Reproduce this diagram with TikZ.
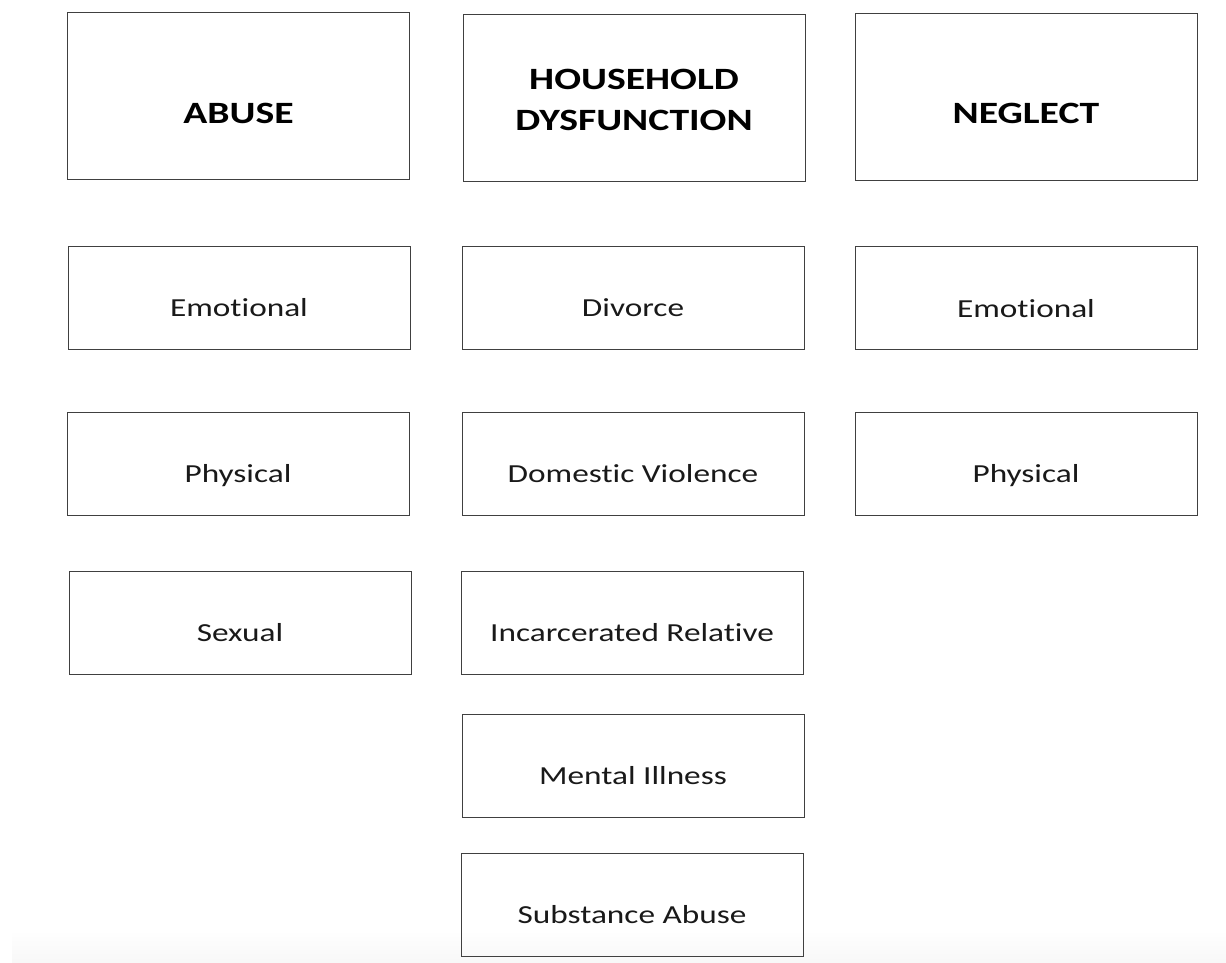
\documentclass[tikz,border=0pt]{standalone}
\usepackage{fontspec}
\setmainfont[FakeStretch=1.28,Ligatures={NoCommon}]{Carlito}
\begin{document}
\begin{tikzpicture}[x=1pt,y=-1pt,
  box/.style={draw=black!75, line width=1pt, rectangle, inner sep=0pt, minimum width=342pt, minimum height=103pt},
  hbox/.style={box, minimum height=166pt},
  lbl/.style={anchor=base, inner sep=0pt, font=\fontsize{26}{31}\selectfont, text=black!90},
  hlbl/.style={anchor=base, inner sep=0pt, font=\fontsize{31}{41}\selectfont\bfseries, align=center, text=black}]
\useasboundingbox (0,0) rectangle (1226,963);
\shade[top color=white, bottom color=black!3] (12,930) rectangle (1226,963);
% headers
\node[hbox] (abuse) at (238.5,96) {};
\node[hbox] (house) at (634,98) {};
\node[hbox] (negl) at (1026,97) {};
\node[hlbl] (abuseL) at (238.5,124) {ABUSE};
\node[hlbl] (houseL1) at (634,89.5) {HOUSEHOLD};
\node[hlbl] (houseL2) at (634,130.5) {DYSFUNCTION};
\node[hlbl] (neglL) at (1026,124) {NEGLECT};
% abuse column
\node[box] (ae) at (239,297.5) {};
\node[box] (ap) at (238,463.5) {};
\node[box] (as) at (240,622.5) {};
\node[lbl] (aeL) at (239,316.5) {Emotional};
\node[lbl] (apL) at (238,482.5) {Physical};
\node[lbl] (asL) at (240,641.5) {Sexual};
% household column
\node[box] (hd) at (633,297.5) {};
\node[box] (hv) at (633,463.5) {};
\node[box] (hi) at (632,622.5) {};
\node[box] (hm) at (633,765.5) {};
\node[box] (hs) at (632,904.5) {};
\node[lbl] (hdL) at (633,316.5) {Divorce};
\node[lbl] (hvL) at (633,482.5) {Domestic Violence};
\node[lbl] (hiL) at (632,641.5) {Incarcerated Relative};
\node[lbl] (hmL) at (633,784.5) {Mental Illness};
\node[lbl] (hsL) at (632,923.5) {Substance Abuse};
% neglect column
\node[box] (ne) at (1026,298) {};
\node[box] (np) at (1026,463.5) {};
\node[lbl] (neL) at (1026,317) {Emotional};
\node[lbl] (npL) at (1026,482.5) {Physical};
\end{tikzpicture}
\end{document}
